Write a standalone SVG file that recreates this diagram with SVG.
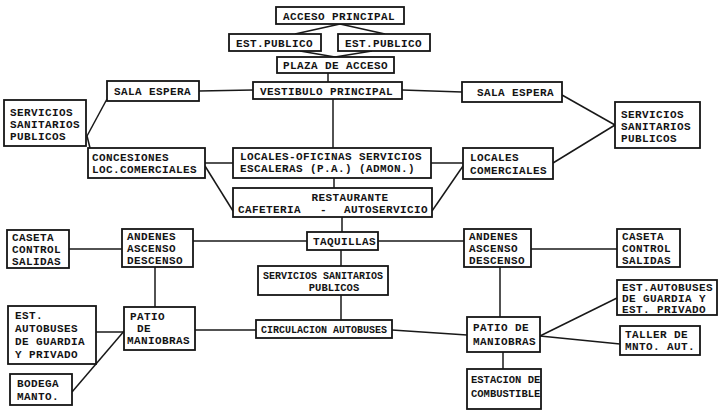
<svg xmlns="http://www.w3.org/2000/svg" width="720" height="414" viewBox="0 0 720 414">
  <style>
    .box { fill: #fff; stroke: #151515; stroke-width: 1.8; }
    .lbl { font-family: "Liberation Mono", "DejaVu Sans Mono", monospace; font-size: 11px; font-weight: bold; letter-spacing: 0.4px; fill: #141414; }
    .nar { font-size: 10.5px; letter-spacing: 0; }
    .mid { text-anchor: middle; }
    #connectors line { stroke: #181818; stroke-width: 1.5; fill: none; }
  </style>
  <rect width="720" height="414" fill="#fff"/>

  <!-- connectors -->
  <g id="connectors">
    <line x1="295" y1="34" x2="340" y2="24"/>
    <line x1="385" y1="34" x2="340" y2="24"/>
    <line x1="300" y1="51" x2="335" y2="57"/>
    <line x1="372" y1="51" x2="335" y2="57"/>
    <line x1="328" y1="73" x2="328" y2="82"/>
    <line x1="199" y1="91" x2="253" y2="90"/>
    <line x1="402" y1="90" x2="462" y2="92"/>
    <line x1="333" y1="99" x2="333" y2="148"/>
    <line x1="107" y1="99" x2="87" y2="136"/>
    <line x1="87" y1="136" x2="90" y2="148"/>
    <line x1="205" y1="163" x2="233" y2="163"/>
    <line x1="205" y1="166" x2="233" y2="211"/>
    <line x1="431" y1="163" x2="463" y2="163"/>
    <line x1="432" y1="211" x2="463" y2="166"/>
    <line x1="562" y1="95" x2="615" y2="125"/>
    <line x1="553" y1="163" x2="615" y2="125"/>
    <line x1="334" y1="178" x2="334" y2="188"/>
    <line x1="342" y1="217" x2="342" y2="232"/>
    <line x1="193" y1="241" x2="307" y2="241"/>
    <line x1="378" y1="241" x2="465" y2="241"/>
    <line x1="69" y1="249" x2="122" y2="249"/>
    <line x1="531" y1="249" x2="617" y2="249"/>
    <line x1="341" y1="250" x2="341" y2="266"/>
    <line x1="341" y1="295" x2="341" y2="320"/>
    <line x1="155" y1="267" x2="155" y2="307"/>
    <line x1="500" y1="267" x2="500" y2="317"/>
    <line x1="195" y1="330" x2="256" y2="330"/>
    <line x1="392" y1="330" x2="467" y2="335"/>
    <line x1="96" y1="332" x2="124" y2="332"/>
    <line x1="72" y1="392" x2="125" y2="330"/>
    <line x1="540" y1="336" x2="617" y2="298"/>
    <line x1="540" y1="336" x2="620" y2="344"/>
    <line x1="503" y1="352" x2="503" y2="369"/>
  </g>

  <!-- nodes -->
  <g id="acceso-principal">
    <rect class="box" x="276" y="7" width="128" height="17"/>
    <text class="lbl" x="283" y="20">ACCESO PRINCIPAL</text>
  </g>
  <g id="est-publico-1">
    <rect class="box" x="229" y="34" width="92" height="17"/>
    <text class="lbl" x="236" y="47">EST.PUBLICO</text>
  </g>
  <g id="est-publico-2">
    <rect class="box" x="338" y="34" width="92" height="17"/>
    <text class="lbl" x="345" y="47">EST.PUBLICO</text>
  </g>
  <g id="plaza-acceso">
    <rect class="box" x="277" y="57" width="117" height="16"/>
    <text class="lbl" x="283" y="69">PLAZA DE ACCESO</text>
  </g>
  <g id="vestibulo">
    <rect class="box" x="253" y="82" width="149" height="17"/>
    <text class="lbl" x="260" y="95">VESTIBULO PRINCIPAL</text>
  </g>
  <g id="sala-espera-1">
    <rect class="box" x="107" y="81" width="92" height="20"/>
    <text class="lbl" x="114" y="95">SALA ESPERA</text>
  </g>
  <g id="sala-espera-2">
    <rect class="box" x="462" y="82" width="100" height="20"/>
    <text class="lbl" x="477" y="96">SALA ESPERA</text>
  </g>
  <g id="sanitarios-1">
    <rect class="box" x="4" y="100" width="82" height="46"/>
    <text class="lbl" x="10" y="116">SERVICIOS</text>
    <text class="lbl" x="10" y="128">SANITARIOS</text>
    <text class="lbl" x="10" y="140">PUBLICOS</text>
  </g>
  <g id="sanitarios-2">
    <rect class="box" x="615" y="102" width="85" height="46"/>
    <text class="lbl" x="621" y="118">SERVICIOS</text>
    <text class="lbl" x="621" y="130">SANITARIOS</text>
    <text class="lbl" x="621" y="142">PUBLICOS</text>
  </g>
  <g id="concesiones">
    <rect class="box" x="88" y="148" width="117" height="30"/>
    <text class="lbl" x="92" y="161">CONCESIONES</text>
    <text class="lbl" x="92" y="173">LOC.COMERCIALES</text>
  </g>
  <g id="locales-oficinas">
    <rect class="box" x="233" y="148" width="198" height="30"/>
    <text class="lbl" x="240" y="160">LOCALES-OFICINAS SERVICIOS</text>
    <text class="lbl" x="240" y="172">ESCALERAS (P.A.) (ADMON.)</text>
  </g>
  <g id="locales-comerciales">
    <rect class="box" x="463" y="148" width="90" height="31"/>
    <text class="lbl" x="470" y="161">LOCALES</text>
    <text class="lbl" x="470" y="174">COMERCIALES</text>
  </g>
  <g id="restaurante">
    <rect class="box" x="233" y="188" width="199" height="29"/>
    <text class="lbl mid" x="350" y="201">RESTAURANTE</text>
    <text class="lbl" x="238" y="213">CAFETERIA</text>
    <text class="lbl" x="320" y="213">-</text>
    <text class="lbl" x="344" y="213">AUTOSERVICIO</text>
  </g>
  <g id="taquillas">
    <rect class="box" x="307" y="232" width="71" height="18"/>
    <text class="lbl" x="313" y="245">TAQUILLAS</text>
  </g>
  <g id="caseta-1">
    <rect class="box" x="7" y="230" width="62" height="38"/>
    <text class="lbl" x="12" y="241">CASETA</text>
    <text class="lbl" x="12" y="253">CONTROL</text>
    <text class="lbl" x="12" y="265">SALIDAS</text>
  </g>
  <g id="andenes-1">
    <rect class="box" x="122" y="229" width="71" height="38"/>
    <text class="lbl" x="127" y="240">ANDENES</text>
    <text class="lbl" x="127" y="252">ASCENSO</text>
    <text class="lbl" x="127" y="264">DESCENSO</text>
  </g>
  <g id="andenes-2">
    <rect class="box" x="464" y="229" width="67" height="38"/>
    <text class="lbl" x="469" y="240">ANDENES</text>
    <text class="lbl" x="469" y="252">ASCENSO</text>
    <text class="lbl" x="469" y="264">DESCENSO</text>
  </g>
  <g id="caseta-2">
    <rect class="box" x="617" y="229" width="63" height="38"/>
    <text class="lbl" x="622" y="240">CASETA</text>
    <text class="lbl" x="622" y="252">CONTROL</text>
    <text class="lbl" x="622" y="264">SALIDAS</text>
  </g>
  <g id="sanitarios-3">
    <rect class="box" x="258" y="266" width="130" height="29"/>
    <text class="lbl nar" x="263" y="279" textLength="120" lengthAdjust="spacingAndGlyphs">SERVICIOS SANITARIOS</text>
    <text class="lbl nar mid" x="334" y="291">PUBLICOS</text>
  </g>
  <g id="circulacion">
    <rect class="box" x="256" y="320" width="136" height="18"/>
    <text class="lbl nar" x="261" y="333" textLength="126" lengthAdjust="spacingAndGlyphs">CIRCULACION AUTOBUSES</text>
  </g>
  <g id="est-autobuses-1">
    <rect class="box" x="8" y="306" width="88" height="58"/>
    <text class="lbl" x="15" y="319">EST.</text>
    <text class="lbl" x="15" y="332">AUTOBUSES</text>
    <text class="lbl" x="15" y="345">DE GUARDIA</text>
    <text class="lbl" x="15" y="358">Y PRIVADO</text>
  </g>
  <g id="patio-1">
    <rect class="box" x="124" y="307" width="71" height="43"/>
    <text class="lbl" x="130" y="320">PATIO</text>
    <text class="lbl" x="137" y="332">DE</text>
    <text class="lbl" x="127" y="344">MANIOBRAS</text>
  </g>
  <g id="bodega">
    <rect class="box" x="10" y="374" width="62" height="31"/>
    <text class="lbl" x="17" y="387">BODEGA</text>
    <text class="lbl" x="17" y="400">MANTO.</text>
  </g>
  <g id="patio-2">
    <rect class="box" x="467" y="317" width="73" height="35"/>
    <text class="lbl" x="473" y="331">PATIO DE</text>
    <text class="lbl" x="473" y="345">MANIOBRAS</text>
  </g>
  <g id="est-autobuses-2">
    <rect class="box" x="617" y="280" width="100" height="35"/>
    <text class="lbl" x="622" y="291">EST.AUTOBUSES</text>
    <text class="lbl" x="622" y="302">DE GUARDIA Y</text>
    <text class="lbl" x="622" y="313">EST. PRIVADO</text>
  </g>
  <g id="taller">
    <rect class="box" x="620" y="326" width="80" height="29"/>
    <text class="lbl" x="625" y="338">TALLER DE</text>
    <text class="lbl" x="625" y="350">MNTO. AUT.</text>
  </g>
  <g id="estacion">
    <rect class="box" x="467" y="369" width="74" height="40"/>
    <text class="lbl nar" x="471" y="383">ESTACION DE</text>
    <text class="lbl nar" x="471" y="397">COMBUSTIBLE</text>
  </g>
</svg>
